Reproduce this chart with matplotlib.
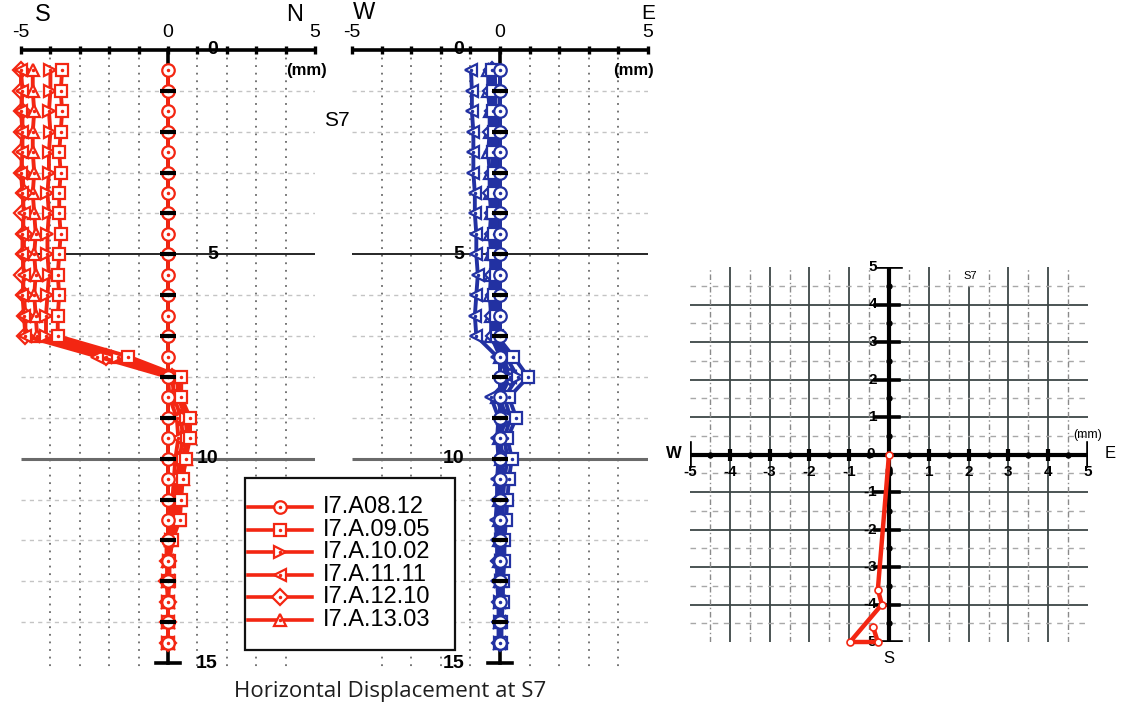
import matplotlib
matplotlib.use("Agg")
import matplotlib.pyplot as plt
from matplotlib import font_manager
from matplotlib.lines import Line2D
from matplotlib.patches import Rectangle


def pick_font(*names):
    for n in names:
        try:
            font_manager.findfont(font_manager.FontProperties(family=n),
                                  fallback_to_default=False)
            return n
        except Exception:
            pass
    return "DejaVu Sans"


NARROW = pick_font("Liberation Sans Narrow", "Liberation Sans")
SANS = pick_font("Liberation Sans", "DejaVu Sans")
TITLE_FONT = pick_font("Open Sans", "DejaVu Sans")

# ---------------------------------------------------------------- data
survey_labels = ["I7.A08.12", "I7.A.09.05", "I7.A.10.02",
                 "I7.A.11.11", "I7.A.12.10", "I7.A.13.03"]
survey_markers = ["o", "s", ">", "<", "D", "^"]

depth_m = [0.5, 1.0, 1.5, 2.0, 2.5, 3.0, 3.5, 4.0, 4.5, 5.0, 5.5, 6.0, 6.5, 7.0,
           7.5, 8.0, 8.5, 9.0, 9.5, 10.0, 10.5, 11.0, 11.5, 12.0, 12.5, 13.0,
           13.5, 14.0, 14.5]

# north-south displacement (mm), negative = south
ns_0812 = [0.0] * 29
ns_0905 = [-3.6, -3.65, -3.6, -3.65, -3.7, -3.65, -3.7, -3.7, -3.65, -3.7, -3.75, -3.7,
           -3.75, -3.75, -1.35, 0.45, 0.45, 0.75, 0.75, 0.6, 0.5, 0.45, 0.4, 0.15,
           0.05, 0.05, 0.0, 0.0, 0.0]
ns_1002 = [-4.0, -4.0, -4.05, -4.0, -4.05, -4.05, -4.1, -4.05, -4.1, -4.1, -4.05, -4.1,
           -4.15, -4.15, -1.7, 0.3, 0.35, 0.6, 0.65, 0.5, 0.4, 0.35, 0.3, 0.1,
           0.05, 0.0, 0.0, 0.0, 0.0]
ns_1111 = [-5.0, -4.95, -5.0, -4.95, -4.95, -5.0, -4.95, -4.9, -4.95, -4.95, -4.9, -4.95,
           -4.9, -4.85, -2.4, 0.0, 0.05, 0.3, 0.35, 0.25, 0.2, 0.15, 0.1, -0.05,
           -0.05, 0.0, 0.0, 0.0, 0.0]
ns_1210 = [-5.0, -5.0, -4.95, -4.95, -5.0, -4.95, -4.9, -4.95, -4.9, -4.9, -4.95, -4.9,
           -4.85, -4.85, -2.1, 0.15, 0.2, 0.45, 0.5, 0.4, 0.3, 0.25, 0.2, 0.05,
           0.0, -0.05, 0.0, 0.0, 0.0]
ns_1303 = [-4.6, -4.6, -4.55, -4.6, -4.6, -4.55, -4.6, -4.55, -4.5, -4.55, -4.5, -4.55,
           -4.5, -4.45, -1.95, 0.35, 0.4, 0.7, 0.7, 0.6, 0.5, 0.4, 0.35, 0.1,
           0.0, 0.0, 0.0, 0.0, 0.0]

# east-west displacement (mm), negative = west
ew_0812 = [0.0] * 29
ew_0905 = [-0.28, -0.25, -0.25, -0.2, -0.25, -0.2, -0.2, -0.25, -0.2, -0.2, -0.15, -0.2,
           -0.15, -0.1, 0.45, 0.95, 0.3, 0.55, 0.25, 0.4, 0.3, 0.25, 0.2, 0.15,
           0.15, 0.1, 0.1, 0.05, 0.05]
ew_1002 = [-0.18, -0.15, -0.15, -0.1, -0.15, -0.1, -0.1, -0.15, -0.1, -0.1, -0.05, -0.1,
           -0.05, 0.0, 0.2, 0.6, 0.15, 0.35, 0.15, 0.25, 0.15, 0.1, 0.1, 0.05,
           0.05, 0.05, 0.0, 0.0, 0.0]
ew_1111 = [-0.98, -0.95, -0.95, -0.9, -0.9, -0.9, -0.85, -0.85, -0.8, -0.8, -0.75, -0.8,
           -0.85, -0.8, -0.1, 0.35, -0.3, -0.05, -0.1, -0.05, -0.1, -0.1, -0.15, -0.1,
           -0.1, -0.1, -0.05, -0.05, -0.05]
ew_1210 = [-0.28, -0.3, -0.25, -0.3, -0.25, -0.25, -0.3, -0.25, -0.25, -0.2, -0.25, -0.2,
           -0.25, -0.2, 0.1, 0.35, 0.0, 0.2, 0.0, 0.1, 0.05, 0.0, 0.0, 0.0,
           -0.05, 0.0, 0.0, 0.0, 0.0]
ew_1303 = [-0.4, -0.4, -0.35, -0.35, -0.4, -0.35, -0.35, -0.3, -0.35, -0.3, -0.3, -0.35,
           -0.3, -0.3, 0.0, 0.25, -0.1, 0.1, -0.05, 0.05, 0.0, -0.05, -0.05, -0.05,
           -0.05, 0.0, 0.0, 0.0, 0.0]

ns_series = [ns_0812, ns_0905, ns_1002, ns_1111, ns_1210, ns_1303]
ew_series = [ew_0812, ew_0905, ew_1002, ew_1111, ew_1210, ew_1303]

depth_ticks = [0, 5, 10, 15]
mm_ticks = [-5, -4, -3, -2, -1, 0, 1, 2, 3, 4, 5]

RED = "#f32612"
BLUE = "#2231a2"

# ---------------------------------------------------------------- figure
W, H = 1126, 712
fig = plt.figure(figsize=(W / 100, H / 100), dpi=100)
fig.patch.set_facecolor("white")


def fx(px):
    return px / W


def fy(py):
    return 1 - py / H


def profile_panel(ax, series, color, depth_label_x):
    ax.set_xlim(-5, 5)
    ax.set_ylim(15, 0)
    ax.axis("off")

    # grid
    for x in mm_ticks:
        if x in (-5, 0, 5):
            continue
        ax.vlines(x, 0, 15.2, colors="#6a6a6a", linestyles=(0, (1, 3.2)),
                  lw=1.3, zorder=1, clip_on=False)
    for d in range(1, 15):
        if d in (5, 10):
            continue
        ax.hlines(d, -5, 5, colors="#c4c4c4", linestyles=(0, (3, 3)), lw=1.0, zorder=1)
    ax.hlines(5, -5, 5, colors="#151515", lw=1.3, zorder=1)
    ax.hlines(10, -5, 5, colors="#6a6a6a", lw=2.2, zorder=1)

    # top displacement axis
    ax.plot([-5, 5], [0, 0], color="black", lw=2.6, zorder=4, clip_on=False,
            solid_capstyle="butt")
    ax.plot(mm_ticks, [0] * len(mm_ticks), ls="none", marker="|", ms=6, mew=2.4,
            color="black", zorder=4, clip_on=False)
    for x in (-5, 0, 5):
        ax.text(x, -0.44, str(x), ha="center", va="center",
                fontsize=14, family=NARROW, color="black", clip_on=False)

    # depth axis through zero
    ax.plot([0, 0], [0, 15], color="black", lw=2.6, zorder=2, clip_on=False)
    ax.plot([-0.4, 0.4], [15, 15], color="black", lw=2.6, zorder=4, clip_on=False)

    # survey profiles, latest first so the base survey stays on top
    for vals, mk in reversed(list(zip(series, survey_markers))):
        ax.plot(vals, depth_m, color=color, lw=2.8, marker=mk,
                ms=9 if mk != "D" else 8, mfc="white", mec=color, mew=1.6,
                zorder=3, clip_on=False)
        ax.plot(vals, depth_m, ls="none", marker=".", ms=3, color=color,
                zorder=3, clip_on=False)

    # depth ticks on the zero line
    ax.plot([0] * 14, list(range(1, 15)), ls="none", marker="_", ms=11, mew=3,
            color="black", zorder=5, clip_on=False)

    for d in depth_ticks:
        ax.text(depth_label_x, d, str(d), ha="right", va="center", fontsize=14,
                family=NARROW, weight="bold", color="black", zorder=6, clip_on=False)


# left: north-south profile
ax1 = fig.add_axes([fx(21), fy(663), fx(315) - fx(21), fy(50) - fy(663)])
profile_panel(ax1, ns_series, RED, 1.7)
ax1.text(-4.25, -0.86, "S", ha="center", va="center", fontsize=17, family=SANS,
         clip_on=False)
ax1.text(4.3, -0.86, "N", ha="center", va="center", fontsize=17, family=SANS,
         clip_on=False)
ax1.text(4.7, 0.49, "(mm)", ha="center", va="center", fontsize=12, family=NARROW,
         weight="bold", clip_on=False)

# middle: east-west profile
ax2 = fig.add_axes([fx(352), fy(663), fx(648) - fx(352), fy(50) - fy(663)])
profile_panel(ax2, ew_series, BLUE, -1.2)
ax2.text(-4.6, -0.9, "W", ha="center", va="center", fontsize=17, family=SANS,
         clip_on=False)
ax2.text(5.0, -0.9, "E", ha="center", va="center", fontsize=15, family=NARROW,
         clip_on=False)
ax2.text(4.5, 0.49, "(mm)", ha="center", va="center", fontsize=12, family=NARROW,
         weight="bold", clip_on=False)

fig.text(fx(337), fy(120), "S7", ha="center", va="center", fontsize=15, family=SANS)

# legend
fig.add_artist(Rectangle((fx(245), fy(650)), fx(455) - fx(245), fy(478) - fy(650),
                         transform=fig.transFigure, facecolor="white",
                         edgecolor="#111111", lw=1.6, zorder=10))
for i, (lab, mk) in enumerate(zip(survey_labels, survey_markers)):
    yrow = fy(507 + 22.6 * i)
    fig.add_artist(Line2D([fx(248), fx(312)], [yrow, yrow], transform=fig.transFigure,
                          color=RED, lw=2.6, zorder=11))
    fig.add_artist(Line2D([fx(280)], [yrow], transform=fig.transFigure, ls="none",
                          marker=mk, ms=9 if mk != "D" else 8, mfc="white", mec=RED,
                          mew=1.6, zorder=12))
    fig.add_artist(Line2D([fx(280)], [yrow], transform=fig.transFigure, ls="none",
                          marker=".", ms=3, color=RED, zorder=13))
    fig.text(fx(323), yrow, lab, ha="left", va="center", fontsize=17, family=NARROW,
             zorder=12)

# title
fig.text(fx(390), fy(692), "Horizontal Displacement at S7", ha="center", va="center",
         fontsize=16, family=TITLE_FONT, color="#1e1e1e")

# right: plan view of head displacement
ax3 = fig.add_axes([fx(690), fy(642), fx(1088) - fx(690), fy(267) - fy(642)])
ax3.set_xlim(-5, 5)
ax3.set_ylim(-5, 5)
ax3.axis("off")

whole = [-4, -3, -2, -1, 1, 2, 3, 4]
halves = [-4.5, -3.5, -2.5, -1.5, -0.5, 0.5, 1.5, 2.5, 3.5, 4.5]
for v in whole:
    ax3.vlines(v, -5, 4.5 if v == 2 else 5, colors="#3d4646", lw=1.3, zorder=1)
    ax3.hlines(v, -5, 5, colors="#3d4646", lw=1.3, zorder=1)
for v in halves:
    ax3.vlines(v, -5, 5, colors="#8a8a8a", linestyles=(0, (4, 2, 1, 2)), lw=1.0, zorder=1)
    ax3.hlines(v, -5, 5, colors="#a8a8a8", linestyles=(0, (4, 4)), lw=1.0, zorder=1)

ax3.plot([-5, 5], [0, 0], color="black", lw=3, zorder=3)
ax3.plot([0, 0], [-5, 5], color="black", lw=3, zorder=3)
ax3.plot([-5, -5], [-0.3, 0.3], color="black", lw=2.6, zorder=3)
ax3.plot([5, 5], [-0.3, 0.3], color="black", lw=2.6, zorder=3)
ax3.plot([-0.3, 0.3], [5, 5], color="black", lw=2.6, zorder=3)
ax3.plot([-0.3, 0.3], [-5, -5], color="black", lw=2.6, zorder=3)
ax3.plot(whole, [0] * len(whole), ls="none", marker="|", ms=8, mew=3, color="black", zorder=3)
ax3.plot(halves, [0] * len(halves), ls="none", marker="o", ms=3.5, color="black", zorder=3)
for v in whole:
    ax3.plot([-0.35, 0.25], [v, v], color="black", lw=2.6, zorder=3)
ax3.plot([0] * len(halves), halves, ls="none", marker="o", ms=3.5, color="black", zorder=3)

for v in mm_ticks:
    ax3.text(v, -0.48, str(v), ha="center", va="center", fontsize=11,
             family=SANS, weight="bold", zorder=4)
    if v != 0:
        ax3.text(-0.3, v, str(v), ha="right", va="center", fontsize=11, family=SANS,
                 weight="bold", zorder=4)
ax3.text(-0.45, 0.02, "0", ha="center", va="center", fontsize=11, family=SANS,
         weight="bold", zorder=4)
ax3.text(-5.4, 0.02, "W", ha="center", va="center", fontsize=12, family=SANS,
         weight="bold", clip_on=False)
ax3.text(5.55, 0.02, "E", ha="center", va="center", fontsize=12, family=SANS,
         clip_on=False)
ax3.text(5.0, 0.52, "(mm)", ha="center", va="center", fontsize=9, family=SANS,
         clip_on=False)
ax3.text(0.0, -5.45, "S", ha="center", va="center", fontsize=12, family=SANS,
         clip_on=False)
ax3.text(2.05, 4.75, "S7", ha="center", va="center", fontsize=8, family=SANS, zorder=4)

head_ew = [s[0] for s in ew_series]
head_ns = [s[0] for s in ns_series]
ax3.plot(head_ew, head_ns, color=RED, lw=3.2, marker="o", ms=5, mfc="white", mec=RED,
         mew=1.2, zorder=5, clip_on=False)

fig.savefig("out.png", dpi=100, facecolor="white")
